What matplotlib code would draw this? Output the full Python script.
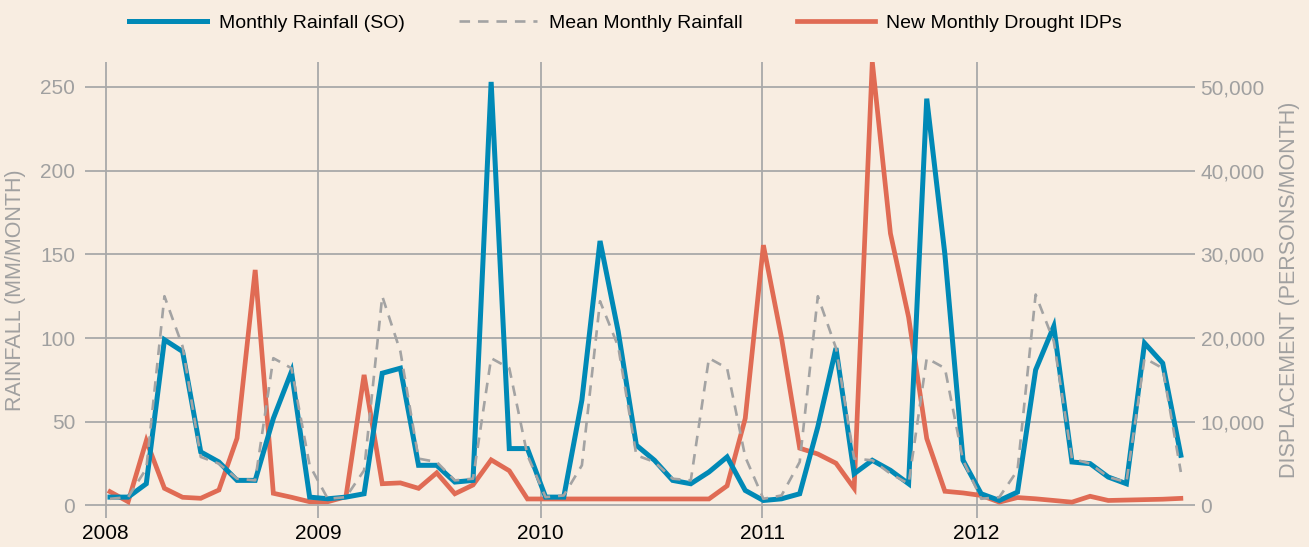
import numpy as np
import matplotlib
matplotlib.use("Agg")
import matplotlib.pyplot as plt
from matplotlib.ticker import FuncFormatter

plt.rcParams['font.family'] = ['Liberation Sans Narrow', 'Liberation Sans', 'DejaVu Sans']

# monthly data, Jan 2008 - Dec 2012
rain_so = [5, 5, 13, 99, 92, 32, 26, 15, 15, 52, 80, 5,
           4, 5, 7, 79, 82, 24, 24, 14, 15, 253, 34, 34,
           5, 5, 63, 158, 104, 36, 27, 15, 13, 20, 29, 9,
           3, 4, 7, 47, 94, 19, 27, 21, 13, 243, 150, 27,
           7, 3, 8, 81, 107, 26, 25, 17, 13, 97, 85, 30]

rain_mean = [4, 5, 22, 125, 95, 29, 25, 16, 15, 88, 82, 24,
             4, 5, 21, 125, 92, 28, 26, 15, 16, 88, 82, 30,
             5, 6, 24, 122, 95, 30, 26, 16, 15, 88, 82, 29,
             4, 6, 26, 125, 94, 28, 27, 19, 13, 88, 82, 27,
             4, 5, 21, 126, 98, 28, 25, 17, 14, 88, 82, 20]

idps = [1650, 450, 7740, 2050, 980, 860, 1850, 8030, 28140, 1460, 980, 450,
        450, 1050, 15600, 2600, 2700, 2050, 3900, 1400, 2450, 5450, 4150, 780,
        780, 780, 780, 780, 780, 780, 780, 780, 780, 780, 2350, 10400,
        31100, 20000, 6850, 6150, 5050, 2050, 53000, 32500, 22500, 8000, 1700, 1500,
        1200, 400, 950, 800, 600, 400, 1100, 600, 650, 700, 750, 850]

years = ['2008', '2009', '2010', '2011', '2012']
year_pos = [-0.24, 11.48, 23.73, 35.94, 47.75]

rain_ticks = [0, 50, 100, 150, 200, 250]
idp_ticks = [0, 10000, 20000, 30000, 40000, 50000]

bg = '#f8ede1'
grid_c = '#a9a9a9'
label_c = '#a0a0a0'
blue = '#0089b6'
red = '#e06b54'

months = np.arange(len(rain_so))

fig = plt.figure(figsize=(13.09, 5.47), dpi=100, facecolor=bg)
W, H = 1309, 547
rect = [105 / W, 1 - 518 / H, 1090 / W, (518 - 62) / H]
ax2 = fig.add_axes(rect)
ax = ax2.twinx()
ax.set_zorder(ax2.get_zorder() + 1)
ax.patch.set_visible(False)
ax2.set_facecolor(bg)

ylim = (-7.47, 264.9)
ax.set_ylim(ylim)
ax2.set_ylim(ylim[0] * 200, ylim[1] * 200)
ax2.set_xlim(-0.275, 59.78)

# grid lives on the lower axes so the lines sit above it
ax2.set_xticks(year_pos)
ax2.set_xticklabels(years)
ax2.set_yticks(idp_ticks)
ax2.yaxis.set_major_formatter(FuncFormatter(lambda v, p: '{:,}'.format(int(v))))
ax2.grid(True, color=grid_c, lw=1.3)
ax2.set_axisbelow(True)
ax2.yaxis.tick_right()
ax2.yaxis.set_label_position('right')
ax2.tick_params(axis='y', length=0, pad=4, labelsize=15, labelcolor=label_c)
ax2.tick_params(axis='x', length=0, pad=4, labelsize=15, labelcolor='black')

ax.yaxis.tick_left()
ax.yaxis.set_label_position('left')
ax.set_yticks(rain_ticks)
ax.tick_params(axis='y', length=14.5, width=1.3, color=grid_c, pad=7,
               labelsize=15, labelcolor=label_c)

for a in (ax, ax2):
    for s in a.spines.values():
        s.set_visible(False)

l_idp, = ax2.plot(months, idps, color=red, lw=3.4, solid_joinstyle='miter')
l_so, = ax.plot(months, rain_so, color=blue, lw=3.6, solid_joinstyle='miter', zorder=2)
l_mean, = ax.plot(months, rain_mean, color='#a3a3a3', lw=1.9, ls=(0, (4, 3)), zorder=3)

ax.set_ylabel('RAINFALL (MM/MONTH)', color=label_c, fontsize=15.5, labelpad=10)
ax2.set_ylabel('DISPLACEMENT (PERSONS/MONTH)', color=label_c, fontsize=15.5,
               rotation=90, labelpad=10)

fig.legend([l_so, l_mean, l_idp],
           ['Monthly Rainfall (SO)', 'Mean Monthly Rainfall', 'New Monthly Drought IDPs'],
           loc='center', bbox_to_anchor=(0.478, 0.958), ncol=3, frameon=False,
           fontsize=14, handlelength=4.0, handletextpad=0.6, columnspacing=2.8)

fig.savefig('out.png', dpi=100, facecolor=bg)
